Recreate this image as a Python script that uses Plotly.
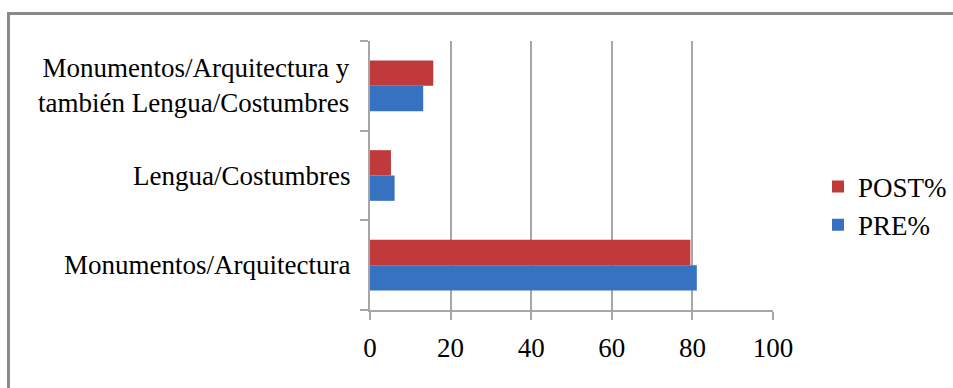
import plotly.graph_objects as go

# Categories (bottom to top) and percentages
categories = [
    "Monumentos/Arquitectura",
    "Lengua/Costumbres",
    "Monumentos/Arquitectura y también Lengua/Costumbres",
]
category_labels = [
    "Monumentos/Arquitectura",
    "Lengua/Costumbres",
    "Monumentos/Arquitectura y<br>también Lengua/Costumbres",
]
pre_pct = [81.1, 6.1, 13.2]
post_pct = [79.5, 5.2, 15.7]
x_ticks = [0, 20, 40, 60, 80, 100]

W, H = 953, 388
ML, MR, MT, MB = 370, 180, 41, 78
PW, PH = W - ML - MR, H - MT - MB

FONT = "Times New Roman, Liberation Serif, Tinos, DejaVu Serif, serif"
GRID = "#A6A6A6"

fig = go.Figure()
fig.add_trace(go.Bar(
    y=categories, x=pre_pct, orientation="h", name="PRE%",
    marker=dict(color="#3672C0", line=dict(width=0)),
    legendrank=2,
))
fig.add_trace(go.Bar(
    y=categories, x=post_pct, orientation="h", name="POST%",
    marker=dict(color="#C13A3B", line=dict(width=0)),
    legendrank=1,
))

# Category labels, right-aligned beside the axis
for cat, label in zip(categories, category_labels):
    fig.add_annotation(
        x=0, xref="paper", y=cat, yref="y", text=label, align="right",
        xanchor="right", yanchor="middle", xshift=-18,
        showarrow=False, font=dict(family=FONT, size=27, color="#000"),
    )

# Outer frame: top and left edges
def px_to_paper_x(px):
    return (px - ML) / PW

def px_to_paper_y(py):
    return (H - MB - py) / PH

fig.add_shape(type="line", xref="paper", yref="paper",
              x0=px_to_paper_x(8), x1=px_to_paper_x(953),
              y0=px_to_paper_y(13.5), y1=px_to_paper_y(13.5),
              line=dict(color="#8A8A8A", width=3))
fig.add_shape(type="line", xref="paper", yref="paper",
              x0=px_to_paper_x(8.5), x1=px_to_paper_x(8.5),
              y0=px_to_paper_y(12), y1=px_to_paper_y(390),
              line=dict(color="#8A8A8A", width=3))

fig.update_layout(
    width=W, height=H,
    margin=dict(l=ML, r=MR, t=MT, b=MB, autoexpand=False),
    paper_bgcolor="white", plot_bgcolor="white",
    barmode="group", bargap=0.435, bargroupgap=0,
    font=dict(family=FONT, size=27, color="#000"),
    showlegend=True,
    legend=dict(
        x=px_to_paper_x(818), xanchor="left",
        y=px_to_paper_y(206), yanchor="middle",
        traceorder="normal", tracegroupgap=0, itemsizing="constant",
        font=dict(family=FONT, size=27, color="#000"),
        bgcolor="rgba(0,0,0,0)",
    ),
    xaxis=dict(
        range=[0, 100], tickvals=x_ticks, ticktext=[str(v) for v in x_ticks],
        showgrid=True, gridcolor=GRID, gridwidth=2,
        showline=True, linecolor=GRID, linewidth=2,
        ticks="outside", ticklen=8, tickwidth=2, tickcolor=GRID,
        zeroline=False, ticklabelstandoff=5,
        tickfont=dict(family=FONT, size=27, color="#000"),
    ),
    yaxis=dict(
        categoryorder="array", categoryarray=categories,
        showticklabels=False, showgrid=False,
        showline=True, linecolor=GRID, linewidth=2,
        ticks="outside", ticklen=8, tickwidth=2, tickcolor=GRID,
        tickson="boundaries", zeroline=False,
    ),
)

fig.write_html("out.html")
